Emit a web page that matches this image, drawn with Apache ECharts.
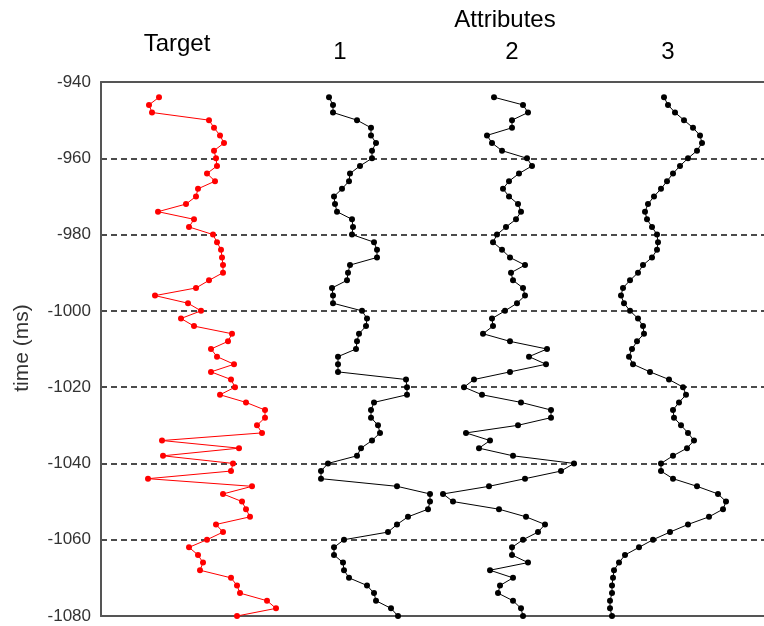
<!DOCTYPE html>
<html>
<head>
<meta charset="utf-8">
<title>Target and attribute traces</title>
<script src="https://cdn.jsdelivr.net/npm/echarts@6/dist/echarts.min.js"></script>
<style>
  html, body { margin: 0; padding: 0; background: #fff; }
  #chart { width: 764px; height: 626px; }
</style>
</head>
<body>
<div id="chart"></div>
<script>
// Sample times (ms), 2 ms sampling
const times = [
  -944, -946, -948, -950, -952, -954, -956, -958, -960, -962,
  -964, -966, -968, -970, -972, -974, -976, -978, -980, -982,
  -984, -986, -988, -990, -992, -994, -996, -998, -1000, -1002,
  -1004, -1006, -1008, -1010, -1012, -1014, -1016, -1018, -1020, -1022,
  -1024, -1026, -1028, -1030, -1032, -1034, -1036, -1038, -1040, -1042,
  -1044, -1046, -1048, -1050, -1052, -1054, -1056, -1058, -1060, -1062,
  -1064, -1066, -1068, -1070, -1072, -1074, -1076, -1078, -1080
];

// Trace amplitudes, one value per sample
const target = [
  -41, -51, -48, 9, 14, 20, 24, 14, 16, 17,
  7, 15, -2, -4, -14, -42, -6, -11, 13, 17,
  21, 22, 23, 23, 9, -4, -45, -12, 1, -19,
  -6, 32, 28, 11, 17, 34, 11, 31, 35, 20,
  46, 65, 65, 57, 62, -38, 39, -37, 33, 31,
  -52, 52, 23, 42, 46, 50, 16, 23, 7, -11,
  -2, 3, 0, 31, 37, 40, 67, 76, 37
];
const attribute1 = [
  -31, -27, -27, -3, 11, 11, 16, 12, 12, 0,
  -10, -11, -18, -26, -25, -23, -8, -7, -8, 14,
  17, 17, -10, -12, -13, -28, -27, -27, 2, 7,
  6, -1, -3, -4, -22, -22, -22, 46, 47, 47,
  14, 11, 11, 18, 20, 12, 1, -3, -32, -39,
  -39, 37, 70, 70, 68, 48, 37, 28, -16, -26,
  -26, -17, -16, -11, 7, 14, 16, 31, 38
];
const attribute2 = [
  -16, 13, 18, 2, 2, -23, -18, -8, 17, 22,
  9, -1, -7, -1, 8, 11, 6, -4, -13, -17,
  -8, 0, 15, 1, 3, 13, 15, 7, -5, -18,
  -17, -27, 0, 37, 19, 36, 0, -36, -46, -28,
  11, 41, 41, 8, -44, -20, -31, 3, 64, 51,
  15, -21, -67, -57, -11, 16, 35, 28, 13, 2,
  2, 18, -20, 3, -10, -12, 3, 11, 13
];
const attribute3 = [
  4, 8, 15, 24, 33, 40, 42, 37, 28, 20,
  13, 7, 1, -6, -12, -15, -13, -8, -3, -2,
  -3, -8, -17, -22, -30, -37, -39, -36, -30, -22,
  -17, -16, -23, -28, -31, -27, -10, 9, 23, 26,
  19, 13, 14, 21, 28, 34, 27, 13, 1, 1,
  13, 37, 58, 66, 63, 49, 28, 10, -7, -21,
  -35, -41, -46, -47, -48, -48, -50, -50, -48
];

// Axis tick values
const timeTicks = [-940, -960, -980, -1000, -1020, -1040, -1060, -1080];

// Column headings
const headings = ['Target', '1', '2', '3'];
const groupHeading = 'Attributes';

// Horizontal placement of each trace on the shared x axis (axis units)
const traceCenters = [99, 259, 409, 559];

const traces = [target, attribute1, attribute2, attribute3];
const traceColors = ['#ff0000', '#000000', '#000000', '#000000'];

const series = traces.map((vals, i) => ({
  type: 'line',
  name: headings[i],
  xAxisIndex: 0,
  data: vals.map((v, j) => [traceCenters[i] + v, times[j]]),
  symbol: 'circle',
  symbolSize: 6,
  showSymbol: true,
  smooth: false,
  clip: false,
  animation: false,
  lineStyle: { color: traceColors[i], width: 1 },
  itemStyle: { color: traceColors[i] },
  emphasis: { disabled: true }
}));

// Frame lines along the top and bottom of the plot (the right side is open)
const frameAxis = (position) => ({
  type: 'value',
  position: position,
  min: 0,
  max: 663,
  axisLine: { show: true, onZero: false, lineStyle: { color: '#555555', width: 2 } },
  axisTick: { show: false },
  axisLabel: { show: false },
  splitLine: { show: false }
});

const chart = echarts.init(document.getElementById('chart'), null, { renderer: 'canvas' });

const titleFont = '24px "Liberation Sans"';

chart.setOption({
  backgroundColor: '#ffffff',
  animation: false,
  grid: {
    left: 101,
    top: 82,
    right: 0,
    height: 534,
    show: false
  },
  xAxis: [frameAxis('bottom'), frameAxis('top')],
  yAxis: {
    type: 'value',
    min: timeTicks[timeTicks.length - 1],
    max: timeTicks[0],
    interval: 20,
    axisLine: { show: true, onZero: false, lineStyle: { color: '#555555', width: 2 } },
    axisTick: { show: false },
    axisLabel: {
      margin: 10,
      fontSize: 17,
      fontFamily: 'Liberation Sans',
      color: '#333333',
      formatter: (v) => String(v)
    },
    splitLine: {
      show: true,
      lineStyle: { color: '#111111', width: 1.5, type: [6, 4] }
    }
  },
  graphic: [
    {
      type: 'text', x: 177, y: 44,
      style: { text: headings[0], font: titleFont, fill: '#000', align: 'center', verticalAlign: 'middle' }
    },
    {
      type: 'text', x: 505, y: 20,
      style: { text: groupHeading, font: titleFont, fill: '#000', align: 'center', verticalAlign: 'middle' }
    },
    {
      type: 'text', x: 340, y: 52,
      style: { text: headings[1], font: titleFont, fill: '#000', align: 'center', verticalAlign: 'middle' }
    },
    {
      type: 'text', x: 512, y: 52,
      style: { text: headings[2], font: titleFont, fill: '#000', align: 'center', verticalAlign: 'middle' }
    },
    {
      type: 'text', x: 668, y: 52,
      style: { text: headings[3], font: titleFont, fill: '#000', align: 'center', verticalAlign: 'middle' }
    },
    {
      type: 'text', x: 22, y: 348, rotation: Math.PI / 2,
      style: { text: 'time (ms)', font: '21px "Liberation Sans"', fill: '#333', align: 'center', verticalAlign: 'middle' }
    }
  ],
  series: series
});
</script>
</body>
</html>
